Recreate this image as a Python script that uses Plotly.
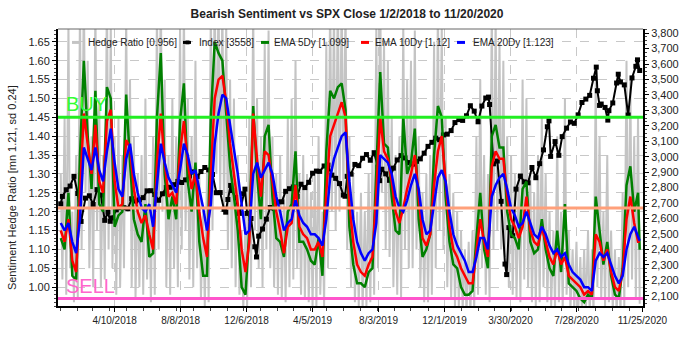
import pandas as pd
import plotly.graph_objects as go

# ---------------- data ----------------
week_start = "2018-01-02"
n_weeks = 151
last_date = "2020-11-20"

ema20 = [1.17,1.15,1.17,1.12,1.09,1.18,1.37,1.34,1.31,1.37,1.31,1.28,1.36,1.42,1.33,1.26,1.24,1.34,1.38,1.30,
         1.25,1.21,1.20,1.22,1.16,1.27,1.38,1.33,1.29,1.27,1.25,1.31,1.38,1.35,1.30,1.31,1.26,1.21,1.15,1.22,
         1.38,1.46,1.51,1.50,1.43,1.37,1.30,1.22,1.14,1.15,1.30,1.33,1.29,1.31,1.33,1.30,1.24,1.20,1.15,1.17,
         1.18,1.23,1.19,1.17,1.16,1.14,1.14,1.13,1.11,1.18,1.29,1.34,1.37,1.40,1.41,1.28,1.18,1.12,1.09,1.07,
         1.09,1.10,1.17,1.35,1.34,1.33,1.30,1.24,1.21,1.20,1.23,1.27,1.30,1.26,1.18,1.14,1.15,1.22,1.29,1.31,
         1.28,1.20,1.14,1.11,1.09,1.07,1.04,1.04,1.08,1.13,1.13,1.10,1.24,1.27,1.29,1.30,1.26,1.21,1.19,1.16,
         1.17,1.20,1.17,1.14,1.13,1.16,1.14,1.11,1.09,1.10,1.08,1.09,1.06,1.04,1.03,1.02,1.00,1.00,0.99,1.07,
         1.09,1.08,1.09,1.06,1.03,1.01,1.03,1.10,1.14,1.16,1.13,1.123]

ema10 = [1.15,1.12,1.18,1.07,1.04,1.25,1.46,1.38,1.30,1.43,1.28,1.25,1.44,1.47,1.28,1.21,1.22,1.39,1.37,1.26,
         1.20,1.17,1.19,1.14,1.10,1.33,1.46,1.33,1.24,1.25,1.22,1.36,1.44,1.33,1.26,1.30,1.20,1.13,1.08,1.30,
         1.50,1.55,1.56,1.49,1.38,1.30,1.22,1.10,1.04,1.12,1.46,1.34,1.24,1.36,1.35,1.28,1.20,1.15,1.09,1.16,
         1.17,1.27,1.16,1.14,1.13,1.10,1.10,1.12,1.08,1.25,1.40,1.43,1.46,1.49,1.45,1.22,1.12,1.06,1.04,1.03,
         1.06,1.08,1.25,1.45,1.36,1.34,1.28,1.20,1.17,1.21,1.26,1.30,1.35,1.24,1.13,1.11,1.14,1.27,1.36,1.40,
         1.27,1.16,1.10,1.08,1.05,1.03,1.01,1.01,1.10,1.18,1.12,1.08,1.32,1.36,1.34,1.34,1.24,1.18,1.16,1.13,
         1.16,1.24,1.15,1.12,1.11,1.16,1.12,1.08,1.06,1.10,1.06,1.08,1.03,1.02,1.01,1.00,0.98,0.99,0.98,1.14,
         1.12,1.07,1.10,1.04,1.00,0.99,1.04,1.18,1.24,1.17,1.12,1.12]

ema5 = [1.13,1.10,1.25,1.03,1.02,1.35,1.60,1.40,1.26,1.52,1.22,1.20,1.53,1.50,1.16,1.19,1.20,1.51,1.33,1.18,
        1.14,1.12,1.22,1.08,1.09,1.45,1.62,1.30,1.18,1.24,1.18,1.44,1.54,1.28,1.20,1.33,1.12,1.03,1.03,1.45,
        1.65,1.62,1.60,1.47,1.32,1.24,1.15,1.00,0.98,1.15,1.48,1.30,1.18,1.40,1.43,1.24,1.13,1.12,1.08,1.20,
        1.22,1.36,1.12,1.12,1.10,1.07,1.06,1.13,1.03,1.36,1.52,1.50,1.53,1.54,1.47,1.16,1.06,1.01,1.01,1.00,
        1.04,1.05,1.33,1.57,1.38,1.37,1.24,1.15,1.14,1.45,1.30,1.33,1.42,1.18,1.08,1.10,1.14,1.35,1.48,1.45,
        1.24,1.12,1.06,1.05,1.00,0.98,0.98,0.99,1.13,1.25,1.10,1.05,1.40,1.43,1.37,1.37,1.20,1.14,1.13,1.10,
        1.26,1.28,1.12,1.09,1.10,1.18,1.10,1.05,1.03,1.15,1.04,1.22,1.01,1.00,0.99,0.97,0.96,0.98,0.97,1.24,
        1.15,1.06,1.12,1.03,0.98,0.97,1.05,1.27,1.32,1.20,1.25,1.099]

hedge_ratio = [1.30,1.02, 1.45,0.98, 1.70,1.05, 1.20,0.96, 1.35,0.97, 1.75,1.10, 1.80,1.25, 1.60,1.05, 1.40,1.00, 1.75,1.15,
               1.50,1.00, 1.35,1.02, 1.80,1.10, 1.70,1.05, 1.40,0.98, 1.45,1.00, 1.35,1.05, 1.72,1.20, 1.55,1.00, 1.40,0.97,
               1.30,1.00, 1.35,0.98, 1.50,1.02, 1.25,0.96, 1.40,0.98, 1.75,1.10, 1.80,1.20, 1.55,1.00, 1.35,0.98, 1.50,1.05,
               1.40,1.00, 1.70,1.10, 1.75,1.15, 1.50,1.02, 1.40,1.00, 1.60,1.05, 1.30,0.97, 1.20,0.95, 1.30,0.96, 1.75,1.15,
               1.80,1.30, 1.78,1.25, 1.75,1.20, 1.70,1.10, 1.55,1.05, 1.50,1.00, 1.35,0.98, 1.15,0.94, 1.20,0.95, 1.45,1.00,
               1.75,1.15, 1.50,1.05, 1.40,1.00, 1.65,1.10, 1.68,1.05, 1.40,1.00, 1.30,0.98, 1.35,0.97, 1.25,0.96, 1.45,1.00,
               1.50,1.02, 1.60,1.05, 1.30,0.98, 1.35,0.97, 1.30,0.96, 1.25,0.95, 1.30,0.95, 1.40,0.98, 1.20,0.95, 1.65,1.05,
               1.78,1.20, 1.75,1.15, 1.80,1.20, 1.78,1.25, 1.75,1.10, 1.40,1.00, 1.30,0.96, 1.20,0.95, 1.25,0.94, 1.20,0.95,
               1.30,0.96, 1.35,0.98, 1.70,1.05, 1.80,1.25, 1.65,1.10, 1.60,1.08, 1.45,1.00, 1.35,0.98, 1.40,0.97, 1.70,1.10,
               1.55,1.05, 1.60,1.05, 1.68,1.10, 1.40,1.00, 1.25,0.96, 1.30,0.96, 1.35,0.98, 1.65,1.05, 1.75,1.15, 1.70,1.10,
               1.45,1.00, 1.30,0.97, 1.25,0.95, 1.20,0.95, 1.15,0.94, 1.10,0.93, 1.12,0.93, 1.15,0.94, 1.40,0.98, 1.55,1.05,
               1.35,0.98, 1.30,0.96, 1.75,1.10, 1.72,1.15, 1.65,1.10, 1.60,1.08, 1.40,1.00, 1.35,0.98, 1.30,0.97, 1.30,0.96,
               1.55,1.02, 1.50,1.00, 1.30,0.96, 1.25,0.95, 1.35,0.96, 1.45,1.00, 1.30,0.96, 1.20,0.95, 1.15,0.94, 1.40,0.96,
               1.20,0.94, 1.50,0.98, 1.15,0.94, 1.10,0.94, 1.12,0.93, 1.08,0.93, 1.10,0.93, 1.15,0.93, 1.10,0.93, 1.55,1.00,
               1.40,0.97, 1.20,0.95, 1.35,0.96, 1.15,0.94, 1.10,0.93, 1.08,0.93, 1.25,0.95, 1.60,1.00, 1.55,1.02, 1.40,0.97,
               1.45,0.956]

index_dates = ["2018-01-02","2018-01-05","2018-01-12","2018-01-19","2018-01-26","2018-02-02","2018-02-08","2018-02-16",
    "2018-02-23","2018-03-02","2018-03-09","2018-03-16","2018-03-23","2018-03-29","2018-04-02","2018-04-06","2018-04-13",
    "2018-04-20","2018-04-27","2018-05-04","2018-05-11","2018-05-18","2018-05-25","2018-06-01","2018-06-08","2018-06-15",
    "2018-06-22","2018-06-29","2018-07-06","2018-07-13","2018-07-20","2018-07-27","2018-08-03","2018-08-10","2018-08-17",
    "2018-08-24","2018-08-31","2018-09-07","2018-09-14","2018-09-21","2018-09-28","2018-10-05","2018-10-12","2018-10-19",
    "2018-10-26","2018-10-29","2018-11-02","2018-11-07","2018-11-09","2018-11-16","2018-11-23","2018-11-30","2018-12-03",
    "2018-12-07","2018-12-14","2018-12-21","2018-12-24","2018-12-28","2019-01-04","2019-01-11","2019-01-18","2019-01-25",
    "2019-02-01","2019-02-08","2019-02-15","2019-02-22","2019-03-01","2019-03-08","2019-03-15","2019-03-22","2019-03-29",
    "2019-04-05","2019-04-12","2019-04-18","2019-04-26","2019-05-03","2019-05-10","2019-05-17","2019-05-24","2019-05-31",
    "2019-06-03","2019-06-07","2019-06-14","2019-06-21","2019-06-28","2019-07-05","2019-07-12","2019-07-19","2019-07-26",
    "2019-08-02","2019-08-05","2019-08-09","2019-08-16","2019-08-23","2019-08-30","2019-09-06","2019-09-13","2019-09-20",
    "2019-09-27","2019-10-04","2019-10-11","2019-10-18","2019-10-25","2019-11-01","2019-11-08","2019-11-15","2019-11-22",
    "2019-11-29","2019-12-06","2019-12-13","2019-12-20","2019-12-27","2020-01-03","2020-01-10","2020-01-17","2020-01-24",
    "2020-01-31","2020-02-07","2020-02-14","2020-02-19","2020-02-21","2020-02-28","2020-03-06","2020-03-13","2020-03-20",
    "2020-03-23","2020-03-27","2020-04-03","2020-04-09","2020-04-17","2020-04-24","2020-05-01","2020-05-08","2020-05-15",
    "2020-05-22","2020-05-29","2020-06-05","2020-06-08","2020-06-11","2020-06-19","2020-06-26","2020-07-02","2020-07-10",
    "2020-07-17","2020-07-24","2020-07-31","2020-08-07","2020-08-14","2020-08-21","2020-08-28","2020-09-02","2020-09-04",
    "2020-09-08","2020-09-11","2020-09-18","2020-09-23","2020-09-25","2020-10-02","2020-10-09","2020-10-12","2020-10-16",
    "2020-10-23","2020-10-30","2020-11-06","2020-11-13","2020-11-16","2020-11-20"]
index_values = [2695,2743,2786,2810,2873,2762,2581,2732,2747,2691,2787,2752,2588,2641,2582,2604,2656,2670,2670,2663,
    2728,2713,2721,2735,2779,2780,2755,2718,2760,2801,2802,2819,2840,2833,2850,2875,2902,2872,2904,2930,2914,2885,
    2767,2768,2659,2641,2723,2814,2781,2736,2633,2760,2790,2633,2600,2417,2351,2486,2532,2596,2671,2665,2707,2708,
    2776,2793,2804,2743,2822,2800,2834,2893,2907,2905,2940,2946,2881,2860,2826,2752,2744,2873,2887,2950,2942,2990,
    3014,2977,3026,2932,2845,2919,2889,2847,2926,2979,3007,2992,2962,2952,2970,2986,3023,3067,3093,3120,3110,3141,
    3146,3169,3221,3240,3235,3265,3330,3295,3226,3328,3380,3386,3338,2954,2972,2711,2305,2237,2541,2489,2790,2875,
    2837,2831,2930,2864,2955,3044,3194,3232,3002,3098,3009,3130,3185,3225,3216,3271,3351,3373,3397,3508,3580,3427,
    3332,3341,3319,3237,3298,3348,3477,3534,3484,3465,3270,3510,3585,3627,3558]

x_tick_dates = ["2018-04-10","2018-08-08","2018-12-06","2019-04-05","2019-08-03","2019-12-01","2020-03-30","2020-07-28","2020-11-25"]
x_tick_labels = ["4/10/2018","8/8/2018","12/6/2018","4/5/2019","8/3/2019","12/1/2019","3/30/2020","7/28/2020","11/25/2020"]
left_ticks = [1.00,1.05,1.10,1.15,1.20,1.25,1.30,1.35,1.40,1.45,1.50,1.55,1.60,1.65]
right_ticks = list(range(2100, 3801, 100))

buy_level = 1.45
mean_level = 1.21
sell_level = 0.97

legend_names = ["Hedge Ratio [0.956]", "Index [3558]", "EMA 5Dy [1.099]", "EMA 10Dy [1.12]", "EMA 20Dy [1.123]"]

# ---------------- build ----------------
weeks = list(pd.date_range(week_start, periods=n_weeks, freq="7D"))
ema_dates = weeks + [pd.Timestamp(last_date)]
gray_dates = []
for w in weeks:
    gray_dates += [w, w + pd.Timedelta(days=3)]

W, H = 700, 338
L, R, T, B = 58, 57, 29, 20
PW, PH = W - L - R, H - T - B
def px(x):  # pixel -> paper x
    return (x - L) / PW
def py(y):  # pixel -> paper y
    return (H - B - y) / PH

FONT = "Liberation Sans, Arial, sans-serif"
fig = go.Figure()
fig.add_trace(go.Scatter(x=gray_dates, y=hedge_ratio, mode="lines", line=dict(color="#c4c4c4", width=2),
                         yaxis="y", showlegend=False, hoverinfo="skip"))
fig.add_trace(go.Scatter(x=pd.to_datetime(index_dates), y=index_values, mode="lines+markers",
                         line=dict(color="black", width=2), marker=dict(symbol="square", size=5, color="black"),
                         yaxis="y2", showlegend=False))
fig.add_trace(go.Scatter(x=ema_dates, y=ema5, mode="lines", line=dict(color="#008000", width=2.5), yaxis="y3", showlegend=False))
fig.add_trace(go.Scatter(x=ema_dates, y=ema10, mode="lines", line=dict(color="#ff0000", width=2.5), yaxis="y3", showlegend=False))
fig.add_trace(go.Scatter(x=ema_dates, y=ema20, mode="lines", line=dict(color="#0000ff", width=2.5), yaxis="y3", showlegend=False))

yr = [0.95, 1.684]
fig.update_layout(
    width=W, height=H, margin=dict(l=L, r=R, t=T, b=B),
    paper_bgcolor="white", plot_bgcolor="white",
    font=dict(family=FONT, size=11, color="#222"),
    title=dict(text="<b>Bearish Sentiment vs SPX Close 1/2/2018 to 11/20/2020</b>", x=347/W, xanchor="center",
               y=1 - 14/H, yanchor="middle", font=dict(size=12, color="#222")),
    xaxis=dict(type="date", range=["2017-12-28", "2020-11-26"], tickvals=pd.to_datetime(x_tick_dates), ticktext=x_tick_labels,
               showgrid=True, gridcolor="#c8c8c8", griddash="dash", gridwidth=1,
               showline=True, linecolor="black", linewidth=2, ticks="outside", ticklen=4, tickcolor="black",
               tickfont=dict(size=10), zeroline=False,
               minor=dict(dtick="M1", ticks="outside", ticklen=3, tickcolor="#444", showgrid=False)),
    yaxis=dict(range=yr, tickvals=left_ticks, tickformat=".2f", showgrid=True, gridcolor="#c8c8c8", griddash="dash",
               showline=True, linecolor="black", linewidth=2, ticks="outside", ticklen=4, tickcolor="black", zeroline=False,
               minor=dict(dtick=0.01, ticks="outside", ticklen=2, tickcolor="#444", showgrid=False)),
    yaxis2=dict(range=[2033.6, 3826.7], overlaying="y", side="right", tickvals=right_ticks, tickformat=",d",
                showgrid=False, showline=True, linecolor="black", linewidth=2, ticks="outside", ticklen=4,
                tickcolor="black", zeroline=False,
                minor=dict(dtick=25, ticks="outside", ticklen=2, tickcolor="#444")),
    yaxis3=dict(range=yr, overlaying="y", visible=False),
)

shapes = []
for lvl, col in [(buy_level, "#22ee22"), (mean_level, "#ffa07a"), (sell_level, "#ff55cc")]:
    shapes.append(dict(type="line", xref="paper", yref="y", x0=0, x1=1, y0=lvl, y1=lvl,
                       line=dict(color=col, width=3), layer="above"))
shapes.append(dict(type="line", xref="paper", yref="paper", x0=0, x1=1, y0=1, y1=1,
                   line=dict(color="#666", width=1), layer="above"))

# legend as text + short dashes
leg_syms = [(72, "#c4c4c4"), (183, "black"), (261, "#008000"), (361, "#ff0000"), (457, "#0000ff")]
leg_text_x = [86, 197, 272, 373, 471]
leg_y = 43
annotations = []
for (sx, col), tx, name in zip(leg_syms, leg_text_x, legend_names):
    shapes.append(dict(type="line", xref="paper", yref="paper", x0=px(sx), x1=px(sx + 8), y0=py(leg_y), y1=py(leg_y),
                       line=dict(color=col, width=3), layer="above"))
    annotations.append(dict(text=name, xref="paper", yref="paper", x=px(tx), y=py(leg_y), xanchor="left",
                            yanchor="middle", showarrow=False, font=dict(size=10, color="#222")))
shapes.append(dict(type="rect", xref="paper", yref="paper", x0=px(185.5), x1=px(189.5), y0=py(leg_y + 2), y1=py(leg_y - 2),
                   fillcolor="black", line=dict(width=0), layer="above"))

annotations.append(dict(text="BUY", xref="paper", yref="paper", x=px(64), y=py(107), xanchor="left", yanchor="middle",
                        showarrow=False, font=dict(size=20, color="#33ff33")))
annotations.append(dict(text="SELL", xref="paper", yref="paper", x=px(64), y=py(297), xanchor="left", yanchor="middle",
                        showarrow=False, font=dict(size=20, color="#ff66cc")))
annotations.append(dict(text="Sentiment Hedge Ratio [mn 1.21, sd 0.24]", xref="paper", yref="paper", x=px(12), y=py(195),
                        xanchor="center", yanchor="middle", textangle=-90, showarrow=False, font=dict(size=11, color="#222")))

fig.update_layout(shapes=shapes, annotations=annotations)
fig.write_html("out.html")
